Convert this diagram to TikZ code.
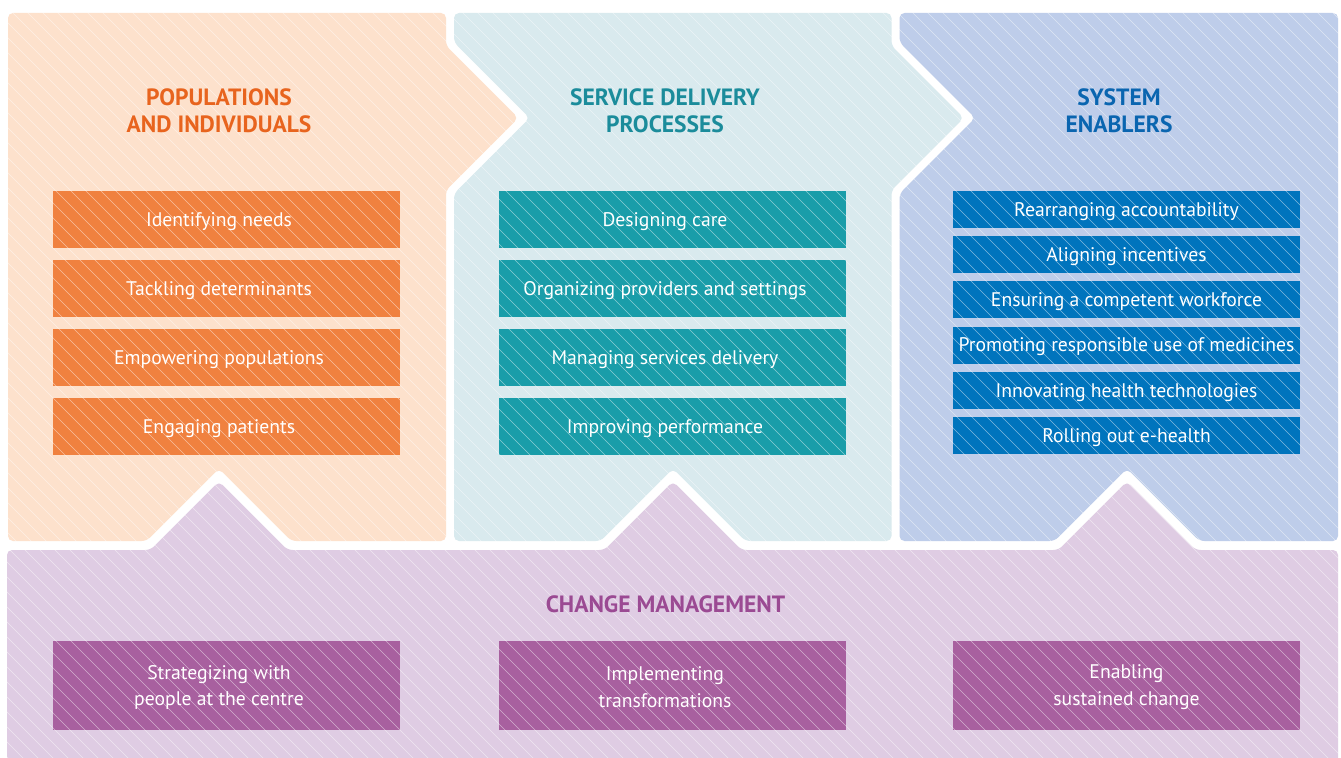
\documentclass[tikz,border=0pt]{standalone}
\usepackage{fontspec}
\setmainfont{PT Sans}
\usetikzlibrary{positioning}
\definecolor{popbg}{HTML}{FDE1CC}
\definecolor{popbox}{HTML}{F0813F}
\definecolor{poptitle}{HTML}{E8641E}
\definecolor{srvbg}{HTML}{D9EAEE}
\definecolor{srvbox}{HTML}{199DA9}
\definecolor{srvtitle}{HTML}{1B8C9B}
\definecolor{sysbg}{HTML}{BECDEA}
\definecolor{sysbox}{HTML}{0074BD}
\definecolor{systitle}{HTML}{0A65B0}
\definecolor{chgbg}{HTML}{DFCCE3}
\definecolor{chgbox}{HTML}{A8609F}
\definecolor{chgtitle}{HTML}{9B4A93}

\begin{document}
\begin{tikzpicture}[x=0.02cm, y=-0.02cm,
  every node/.style={inner sep=0pt, outer sep=0pt},
  panel/.style={rounded corners=0.1cm},
  box/.style={rectangle, minimum width=6.94cm},
  bigbox/.style={box, minimum height=1.14cm},
  slimbox/.style={box, minimum height=0.74cm},
  tallbox/.style={box, minimum height=1.78cm},
  boxtext/.style={text=white, align=center, yshift=-0.04cm, font=\fontsize{11.2}{15.3}\selectfont},
  title/.style={align=center, font=\bfseries\fontsize{13.4}{15.3}\selectfont},
  hatch/.style={white, opacity=0.5, line width=0.3pt}]

\useasboundingbox (0,0) rectangle (1341,757);
\clip (0,0) rectangle (1341,757);
\fill[white] (0,0) rectangle (1341,757);

% Panels
\fill[popbg, panel] (8,541) -- (8,13) -- (446,13) -- (446,45.7) -- (518.3,118)
  -- (446,190.3) -- (446,541) -- (291.4,541) -- (219,468.6) -- (146.6,541) -- cycle;
\fill[srvbg, panel] (454,541) -- (454,193.7) -- (529.7,118) -- (454,42.3) -- (454,13)
  -- (891.5,13) -- (891.5,45.7) -- (963.8,118) -- (891.5,190.3) -- (891.5,541)
  -- (745.4,541) -- (673,468.6) -- (600.6,541) -- cycle;
\fill[sysbg, panel] (899.5,541) -- (899.5,193.7) -- (975.2,118) -- (899.5,42.3)
  -- (899.5,13) -- (1338,13) -- (1338,541) -- (1199.4,541) -- (1127,468.6)
  -- (1054.6,541) -- cycle;
\fill[chgbg, panel] (7,790) -- (7,550) -- (150.4,550) -- (219,481.4) -- (287.6,550)
  -- (604.4,550) -- (673,481.4) -- (741.6,550) -- (1058.4,550) -- (1127,481.4)
  -- (1195.6,550) -- (1338,550) -- (1338,790) -- cycle;

% Populations and individuals
\node[bigbox, fill=popbox] (pop1) at (226.5,219.5) {};
\node[bigbox, fill=popbox] (pop2) at (226.5,288.5) {};
\node[bigbox, fill=popbox] (pop3) at (226.5,357.5) {};
\node[bigbox, fill=popbox] (pop4) at (226.5,426.5) {};

% Service delivery processes
\node[bigbox, fill=srvbox] (srv1) at (672.5,219.5) {};
\node[bigbox, fill=srvbox] (srv2) at (672.5,288.5) {};
\node[bigbox, fill=srvbox] (srv3) at (672.5,357.5) {};
\node[bigbox, fill=srvbox] (srv4) at (672.5,426.5) {};

% System enablers
\node[slimbox, fill=sysbox] (sys1) at (1126.5,209.5) {};
\node[slimbox, fill=sysbox] (sys2) at (1126.5,254.7) {};
\node[slimbox, fill=sysbox] (sys3) at (1126.5,299.9) {};
\node[slimbox, fill=sysbox] (sys4) at (1126.5,345.1) {};
\node[slimbox, fill=sysbox] (sys5) at (1126.5,390.3) {};
\node[slimbox, fill=sysbox] (sys6) at (1126.5,435.5) {};

% Change management
\node[tallbox, fill=chgbox] (chg1) at (226.5,685.5) {};
\node[tallbox, fill=chgbox] (chg2) at (672.5,685.5) {};
\node[tallbox, fill=chgbox] (chg3) at (1126.5,685.5) {};

% Hatching over everything
\foreach \i in {-52,...,90}
  \draw[hatch] (\i*15,0) -- ++(790,790);

% Titles
\node[title, text=poptitle] (poptitle) at (219,110.5) {POPULATIONS\\AND INDIVIDUALS};
\node[title, text=srvtitle] (srvtitle) at (665,110.5) {SERVICE DELIVERY\\PROCESSES};
\node[title, text=systitle] (systitle) at (1119,110.5) {SYSTEM\\ENABLERS};
\node[title, text=chgtitle] (chgtitle) at (665.5,604) {CHANGE MANAGEMENT};

% Box labels
\node[boxtext] at ([xshift=-0.15cm]pop1.center) {Identifying needs};
\node[boxtext] at ([xshift=-0.15cm]pop2.center) {Tackling determinants};
\node[boxtext] at ([xshift=-0.15cm]pop3.center) {Empowering populations};
\node[boxtext] at ([xshift=-0.15cm]pop4.center) {Engaging patients};

\node[boxtext] at ([xshift=-0.15cm]srv1.center) {Designing care};
\node[boxtext] at ([xshift=-0.15cm]srv2.center) {Organizing providers and settings};
\node[boxtext] at ([xshift=-0.15cm]srv3.center) {Managing services delivery};
\node[boxtext] at ([xshift=-0.15cm]srv4.center) {Improving performance};

\node[boxtext] at (sys1.center) {Rearranging accountability};
\node[boxtext] at (sys2.center) {Aligning incentives};
\node[boxtext] at (sys3.center) {Ensuring a competent workforce};
\node[boxtext] at (sys4.center) {Promoting responsible use of medicines};
\node[boxtext] at (sys5.center) {Innovating health technologies};
\node[boxtext] at (sys6.center) {Rolling out e-health};

\node[boxtext] at ([xshift=-0.15cm]chg1.center) {Strategizing with\\people at the centre};
\node[boxtext] at ([xshift=-0.15cm]chg2.center) {Implementing\\transformations};
\node[boxtext] at (chg3.center) {Enabling\\sustained change};

\end{tikzpicture}
\end{document}
